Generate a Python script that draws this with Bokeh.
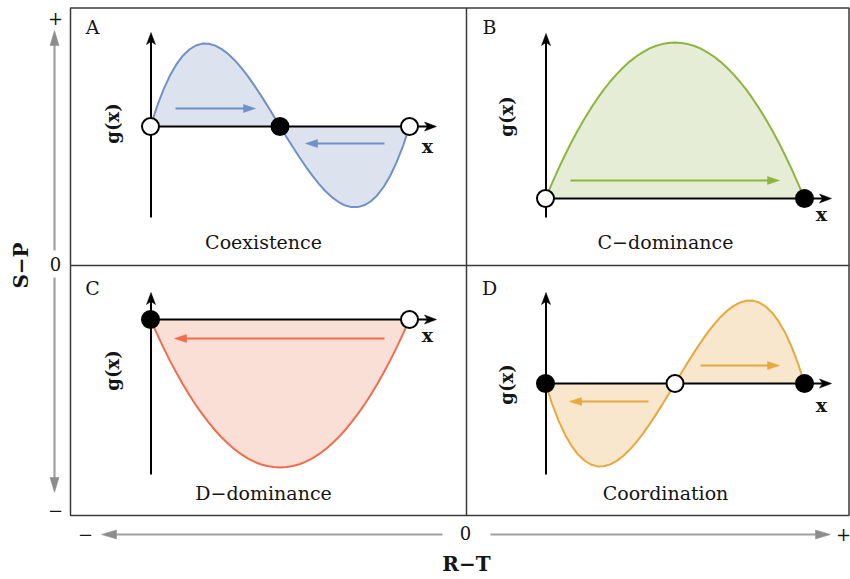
import math

from bokeh.plotting import figure
from bokeh.models import Range1d
from bokeh.core.properties import value
from bokeh.embed import file_html
from bokeh.resources import INLINE

# Frequency of cooperators x on [0, 1]
x_share = [0.000, 0.025, 0.050, 0.075, 0.100, 0.125, 0.150, 0.175, 0.200, 0.225,
           0.250, 0.275, 0.300, 0.325, 0.350, 0.375, 0.400, 0.425, 0.450, 0.475,
           0.500, 0.525, 0.550, 0.575, 0.600, 0.625, 0.650, 0.675, 0.700, 0.725,
           0.750, 0.775, 0.800, 0.825, 0.850, 0.875, 0.900, 0.925, 0.950, 0.975, 1.000]

# Gradient of selection g(x) for the four kinds of 2x2 games
g_coexistence = [0, 0.200, 0.369, 0.509, 0.621, 0.708, 0.770, 0.810, 0.829, 0.828,
                 0.809, 0.774, 0.725, 0.663, 0.589, 0.506, 0.414, 0.316, 0.214, 0.108,
                 0, -0.105, -0.208, -0.308, -0.403, -0.492, -0.573, -0.645, -0.706, -0.753,
                 -0.788, -0.806, -0.806, -0.788, -0.750, -0.689, -0.605, -0.495, -0.359, -0.195, 0]
g_c_dominance = [0, 0.152, 0.296, 0.433, 0.562, 0.683, 0.796, 0.901, 0.998, 1.088,
                 1.170, 1.244, 1.310, 1.369, 1.420, 1.462, 1.498, 1.525, 1.544, 1.556,
                 1.560, 1.556, 1.544, 1.525, 1.498, 1.462, 1.420, 1.369, 1.310, 1.244,
                 1.170, 1.088, 0.998, 0.901, 0.796, 0.683, 0.562, 0.433, 0.296, 0.152, 0]
g_d_dominance = [0, -0.144, -0.281, -0.411, -0.533, -0.648, -0.755, -0.855, -0.947, -1.032,
                 -1.110, -1.180, -1.243, -1.299, -1.347, -1.388, -1.421, -1.447, -1.465, -1.476,
                 -1.480, -1.476, -1.465, -1.447, -1.421, -1.388, -1.347, -1.299, -1.243, -1.180,
                 -1.110, -1.032, -0.947, -0.855, -0.755, -0.648, -0.533, -0.411, -0.281, -0.144, 0]
g_coordination = [0, -0.200, -0.369, -0.509, -0.621, -0.708, -0.770, -0.810, -0.829, -0.828,
                  -0.809, -0.774, -0.725, -0.663, -0.589, -0.506, -0.414, -0.316, -0.214, -0.108,
                  0, 0.108, 0.214, 0.316, 0.414, 0.506, 0.589, 0.663, 0.725, 0.774,
                  0.809, 0.828, 0.829, 0.810, 0.770, 0.708, 0.621, 0.509, 0.369, 0.200, 0]

# Fixed points of the replicator dynamics and whether they are stable
eq_coexistence_x = [0.0, 0.5, 1.0]
eq_coexistence_stable = [False, True, False]
eq_c_dominance_x = [0.0, 1.0]
eq_c_dominance_stable = [False, True]
eq_d_dominance_x = [0.0, 1.0]
eq_d_dominance_stable = [True, False]
eq_coordination_x = [0.0, 0.5, 1.0]
eq_coordination_stable = [True, False, True]

panel_letters = ["A", "B", "C", "D"]
panel_titles = ["Coexistence", "C\u2212dominance", "D\u2212dominance", "Coordination"]

SERIF = value("DejaVu Serif")
INK = "#151515"

p = figure(width=850, height=579, x_range=Range1d(0, 850), y_range=Range1d(579, 0),
           output_backend="svg", toolbar_location=None, min_border=0,
           x_axis_location=None, y_axis_location=None)
p.xgrid.visible = False
p.ygrid.visible = False
p.outline_line_color = None
p.background_fill_color = "white"
p.border_fill_color = "white"

# panel layout: origin of the g(x) axes, extent of the axis lines
panels = [
    dict(ox=150, oy=126, top=32, bottom=217, right=436, lx=92, ly=26, tx=263, ty=241,
         gx=112, gy=123, xx=427, xy=145,
         g=g_coexistence, eq=eq_coexistence_x, st=eq_coexistence_stable,
         line="#6f91c6", fill="#dce3ee",
         flows=[(175, 255, 108), (384, 305, 143)]),
    dict(ox=545, oy=198, top=33, bottom=217, right=831, lx=489, ly=26, tx=665, ty=241,
         gx=506, gy=116, xx=821, xy=213,
         g=g_c_dominance, eq=eq_c_dominance_x, st=eq_c_dominance_stable,
         line="#8db53e", fill="#e6edd6",
         flows=[(570, 779, 180)]),
    dict(ox=150, oy=319, top=292, bottom=474, right=436, lx=92, ly=287, tx=263, ty=492,
         gx=112, gy=370, xx=427, xy=334,
         g=g_d_dominance, eq=eq_d_dominance_x, st=eq_d_dominance_stable,
         line="#ef6d4c", fill="#f9dfd6",
         flows=[(384, 174, 338)]),
    dict(ox=545, oy=383, top=292, bottom=474, right=831, lx=489, ly=287, tx=665, ty=492,
         gx=506, gy=384, xx=821, xy=404,
         g=g_coordination, eq=eq_coordination_x, st=eq_coordination_stable,
         line="#e8a83c", fill="#f8e7cc",
         flows=[(648, 569, 401), (700, 779, 365)]),
]
X_SPAN = 259     # pixels covered by x from 0 to 1
G_UNIT = 100     # pixels per unit of g(x)

heads = {}


def head(tx, ty, dx, dy, length, width, color, notch=0.0):
    bx, by = tx - dx * length, ty - dy * length
    px_, py_ = -dy, dx
    xs = [tx, bx + px_ * width / 2, tx - dx * (length - notch), bx - px_ * width / 2]
    ys = [ty, by + py_ * width / 2, ty - dy * (length - notch), by - py_ * width / 2]
    heads.setdefault(color, ([], []))
    heads[color][0].append(xs)
    heads[color][1].append(ys)


subs = []
for pn in panels:
    sub = p.subplot(x_source=Range1d(0, 1), y_source=Range1d(0, 1),
                    x_target=Range1d(pn["ox"], pn["ox"] + X_SPAN),
                    y_target=Range1d(pn["oy"], pn["oy"] - G_UNIT))
    subs.append(sub)
    sub.varea(x=x_share, y1=0, y2=pn["g"], fill_color=pn["fill"], fill_alpha=1)
    sub.line(x=x_share, y=pn["g"], line_color=pn["line"], line_width=2)

# panel frame and dividers
p.quad(left=70, right=848.5, top=7.5, bottom=515, fill_color=None,
       line_color="#3a3a3a", line_width=1.5)
p.segment(x0=[466, 70], y0=[7.5, 265], x1=[466, 848.5], y1=[515, 265],
          line_color="#3a3a3a", line_width=1.5)

for pn in panels:
    ox, oy = pn["ox"], pn["oy"]
    # g(x) and x axes
    p.segment(x0=[ox + 0.5, ox], y0=[pn["bottom"], oy], x1=[ox + 0.5, pn["right"] - 8],
              y1=[pn["top"] + 8, oy], line_color="black", line_width=2)
    head(ox + 0.5, pn["top"], 0, -1, 12, 9, "black", notch=3)
    head(pn["right"], oy, 1, 0, 12, 9, "black", notch=3)
    # direction of selection
    for (x0, x1, y) in pn["flows"]:
        d = 1 if x1 > x0 else -1
        p.segment(x0=x0, y0=y, x1=x1 - d * 9, y1=y, line_color=pn["line"], line_width=2)
        head(x1, y, d, 0, 12, 8, pn["line"])

# outer gradients S-P and R-T
GREY = "#a0a0a0"
p.segment(x0=[54, 54, 442, 490], y0=[250, 277, 534, 534],
          x1=[54, 54, 112, 818], y1=[42, 480, 534, 534],
          line_color=GREY, line_width=2.2)
head(54, 30, 0, -1, 15, 9, "#8c8c8c")
head(54, 492, 0, 1, 15, 9, "#8c8c8c")
head(101, 534, -1, 0, 15, 9, "#8c8c8c")
head(830, 534, 1, 0, 15, 9, "#8c8c8c")

for color, (xs, ys) in heads.items():
    p.patches(xs=xs, ys=ys, fill_color=color, line_color=color, line_width=0.5)

# fixed points on top of the axes
for pn, sub in zip(panels, subs):
    fills = ["black" if s else "white" for s in pn["st"]]
    sub.scatter(x=pn["eq"], y=0, size=17, fill_color=fills, line_color="black",
                line_width=2)

# texts
for pn, letter, title in zip(panels, panel_letters, panel_titles):
    p.text(x=pn["lx"], y=pn["ly"], text=[letter], text_font=SERIF, text_font_size="19px",
           text_color=INK, text_align="center", text_baseline="middle")
    p.text(x=pn["tx"], y=pn["ty"], text=[title], text_font=SERIF, text_font_size="19px",
           text_color=INK, text_align="center", text_baseline="middle")
    p.text(x=pn["gx"], y=pn["gy"], text=["g(x)"], text_font=SERIF, text_font_size="18px",
           text_font_style="bold", text_color=INK, text_align="center",
           text_baseline="middle", angle=math.pi / 2)
    p.text(x=pn["xx"], y=pn["xy"], text=["x"], text_font=SERIF, text_font_size="19px",
           text_font_style="bold", text_color=INK, text_align="center",
           text_baseline="middle")

p.text(x=[55, 55, 55, 85, 465, 843], y=[17, 263, 509, 533, 532, 533],
       text=["+", "0", "\u2212", "\u2212", "0", "+"], text_font=SERIF,
       text_font_size="18px", text_color=INK, text_align="center", text_baseline="middle")
p.text(x=20, y=265, text=["S\u2212P"], text_font=SERIF, text_font_size="20px",
       text_font_style="bold", text_color=INK, text_align="center",
       text_baseline="middle", angle=math.pi / 2)
p.text(x=466, y=563, text=["R\u2212T"], text_font=SERIF, text_font_size="20px",
       text_font_style="bold", text_color=INK, text_align="center",
       text_baseline="middle")

open("out.html", "w").write(file_html(p, INLINE))
